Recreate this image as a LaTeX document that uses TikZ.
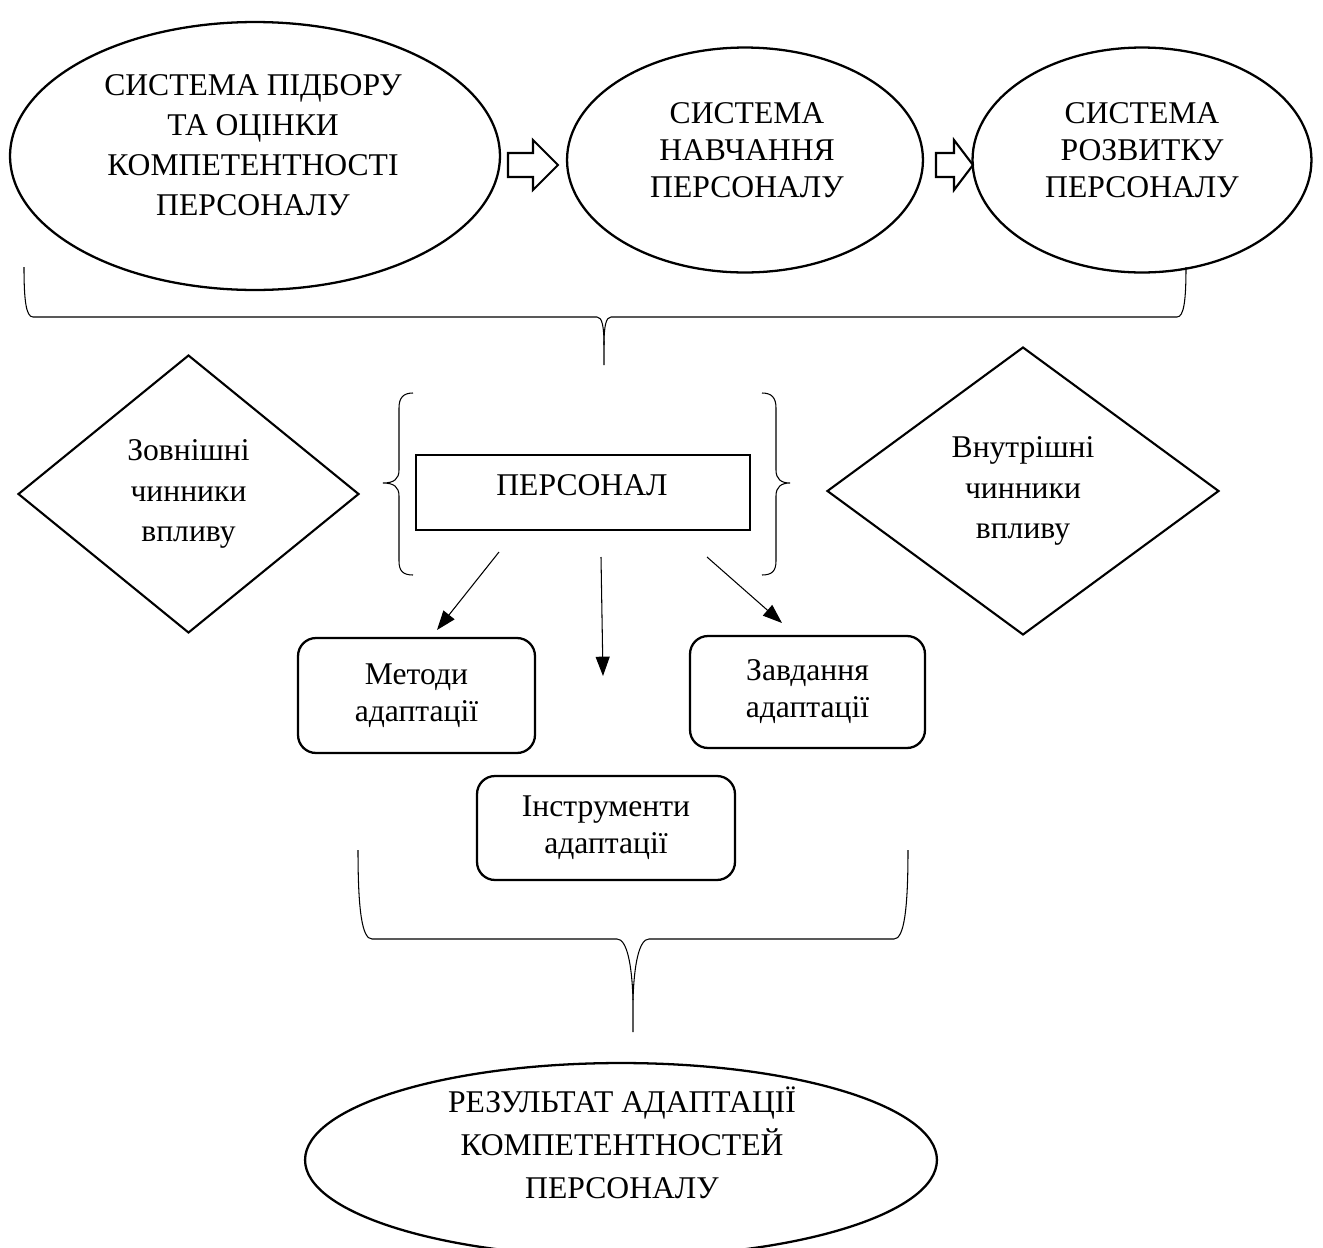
\documentclass[tikz,border=0pt]{standalone}
\usepackage{fontspec}
\setmainfont{Liberation Serif}
\usetikzlibrary{shapes.geometric,arrows.meta}
\begin{document}
\begin{tikzpicture}[x=0.02cm,y=-0.02cm,
  every node/.style={font=\fontsize{18}{21}\selectfont},
  ell/.style={draw,ellipse,line width=1.3pt,inner sep=0pt},
  txt/.style={align=center,inner sep=0pt},
  dia/.style={draw,diamond,line width=1.2pt,inner sep=0pt,align=center,font=\fontsize{18}{23}\selectfont},
  rbox/.style={draw,rounded corners=0.36cm,line width=1.3pt,inner sep=0pt,align=center},
  sqbox/.style={draw,line width=1.4pt,inner sep=0pt},
  brc/.style={line width=0.6pt},
  arr/.style={line width=0.6pt,-{Triangle[length=11pt,width=8pt]}},
  blk/.style={draw,line width=1.2pt,line join=miter}]
\useasboundingbox (0,0) rectangle (1323,1248);

% top ellipses
\node[ell,minimum width=9.8cm,minimum height=5.36cm] (e1) at (255,156) {};
\node[txt,font=\fontsize{18}{22.7}\selectfont] (e1t) at (253,145)
  {СИСТЕМА ПІДБОРУ\\ТА ОЦІНКИ\\КОМПЕТЕНТНОСТІ\\ПЕРСОНАЛУ};
\node[ell,minimum width=7.12cm,minimum height=4.5cm] (e2) at (745,160) {};
\node[txt] (e2t) at (747,150) {СИСТЕМА\\НАВЧАННЯ\\ПЕРСОНАЛУ};
\node[ell,minimum width=6.78cm,minimum height=4.5cm] (e3) at (1142,160) {};
\node[txt] (e3t) at (1142,150) {СИСТЕМА\\РОЗВИТКУ\\ПЕРСОНАЛУ};

% block arrows
\draw[blk] (508,153) -- (533,153) -- (533,140) -- (558,165) -- (533,190) -- (533,177) -- (508,177) -- cycle;
\draw[blk] (936,153) -- (954,153) -- (954,140) -- (973,165) -- (954,190) -- (954,177) -- (936,177) -- cycle;

% top brace
\coordinate (tb) at (604,365);
\draw[brc] (24,267) .. controls (24,300) and (26,317) .. (33,317) -- (597,317)
  .. controls (602,317) and (604,326) .. (604,345) -- (tb);
\draw[brc] (1186,267) .. controls (1186,300) and (1184,317) .. (1177,317) -- (611,317)
  .. controls (606,317) and (604,326) .. (604,345);

% diamonds
\node[dia,minimum width=6.82cm,minimum height=5.56cm] (d1) at (188.5,494)
  {Зовнішні\\чинники\\впливу};
\node[dia,minimum width=7.84cm,minimum height=5.76cm] (d2) at (1023,491)
  {Внутрішні\\чинники\\впливу};

% personnel box
\node[sqbox,minimum width=6.68cm,minimum height=1.5cm] (p) at (583,492.5) {};
\node[txt] (pt) at (582,485) {ПЕРСОНАЛ};

% curly braces
\draw[brc] (413,393) .. controls (403,393) and (399,398) .. (399,408) -- (399,470)
  .. controls (399,479) and (394,483) .. (383,483)
  .. controls (394,483) and (399,487) .. (399,496) -- (399,561)
  .. controls (399,571) and (403,575) .. (413,575);
\draw[brc] (762,393) .. controls (772,393) and (776,398) .. (776,408) -- (776,470)
  .. controls (776,479) and (781,483) .. (790,483)
  .. controls (781,483) and (776,487) .. (776,496) -- (776,561)
  .. controls (776,571) and (772,575) .. (762,575);

% arrows
\coordinate (a1s) at (499,552); \coordinate (a1e) at (437,630);
\coordinate (a2s) at (601,557); \coordinate (a2e) at (603,676);
\coordinate (a3s) at (707,557); \coordinate (a3e) at (782,623);
\draw[arr] (a1s) -- (a1e);
\draw[arr] (a2s) -- (a2e);
\draw[arr] (a3s) -- (a3e);

% rounded boxes
\node[rbox,minimum width=4.74cm,minimum height=2.3cm] (m) at (416.5,695.5)
  {Методи\\адаптації};
\node[rbox,minimum width=4.7cm,minimum height=2.24cm] (z) at (807.5,692)
  {Завдання\\адаптації};
\node[rbox,minimum width=5.16cm,minimum height=2.08cm] (i) at (606,828)
  {Інструменти\\адаптації};

% bottom brace
\coordinate (bb) at (633,1032);
\draw[brc] (358,850) .. controls (358,910) and (362,939) .. (372,939) -- (617,939)
  .. controls (627,939) and (632,965) .. (633,1000) -- (bb);
\draw[brc] (908,850) .. controls (908,910) and (904,939) .. (894,939) -- (649,939)
  .. controls (639,939) and (634,965) .. (633,1000);

% bottom ellipse
\node[ell,minimum width=12.64cm,minimum height=3.88cm] (r) at (621,1160) {};
\node[txt,font=\fontsize{18}{24.4}\selectfont] (rt) at (622,1143)
  {РЕЗУЛЬТАТ АДАПТАЦІЇ\\КОМПЕТЕНТНОСТЕЙ\\ПЕРСОНАЛУ};
\end{tikzpicture}
\end{document}
